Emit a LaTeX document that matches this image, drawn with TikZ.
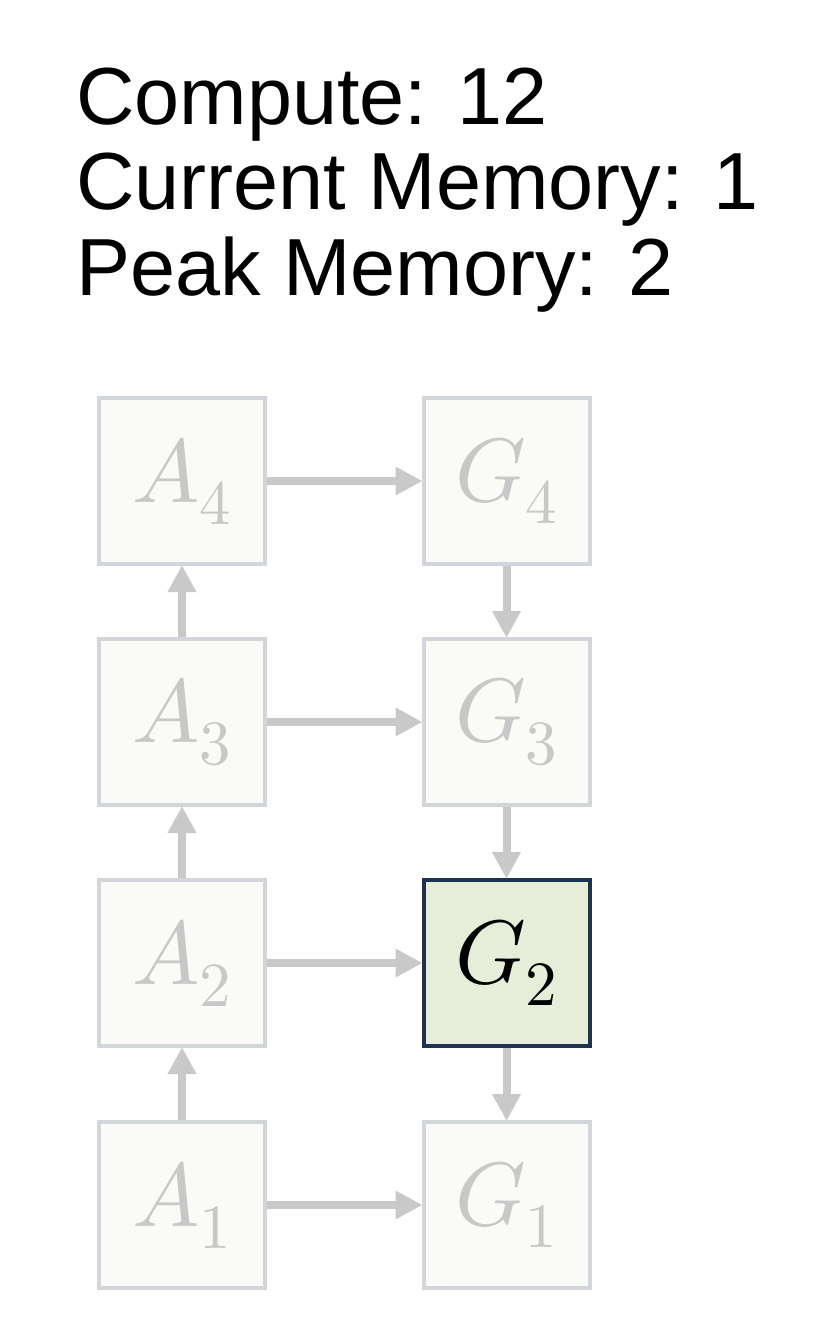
\documentclass[tikz,border=0pt]{standalone}
\usepackage{fontspec}
\usepackage{unicode-math}
\setmainfont{Liberation Sans}
\setmathfont{Latin Modern Math}
\usetikzlibrary{arrows.meta}
\definecolor{boxgray}{HTML}{D2D6DB}
\definecolor{boxfill}{HTML}{FAFBF7}
\definecolor{arrgray}{HTML}{C9C9C9}
\definecolor{txtgray}{HTML}{C8C8C8}
\definecolor{navy}{HTML}{1E3350}
\definecolor{greenfill}{HTML}{E6EDD9}
\tikzset{
  faded/.style={draw=boxgray, fill=boxfill, line width=4pt, minimum width=166pt, minimum height=166pt, inner sep=0pt, text=txtgray, font=\fontsize{90}{90}\selectfont},
  active/.style={faded, draw=navy, fill=greenfill, text=black},
  conn/.style={draw=arrgray, line width=8pt, -{Triangle[length=27pt,width=27pt]}, shorten >=-1pt},
  info/.style={anchor=base west, inner sep=0pt, font=\fontsize{81}{85}\selectfont}
}
\begin{document}
\begin{tikzpicture}[x=1pt,y=-1pt]
\useasboundingbox (0,0) rectangle (834,1332);
\node[info] (l1) at (76,125) {Compute: 12};
\node[info] (l2) at (76,210) {Current Memory: 1};
\node[info] (l3) at (76,295) {Peak Memory: 2};

\node[faded] (A4) at (182,481) {$A_4$};
\node[faded] (G4) at (506.5,481) {$G_4$};
\node[faded] (A3) at (182,722) {$A_3$};
\node[faded] (G3) at (506.5,722) {$G_3$};
\node[faded] (A2) at (182,963) {$A_2$};
\node[active] (G2) at (506.5,963) {$G_2$};
\node[faded] (A1) at (182,1205) {$A_1$};
\node[faded] (G1) at (506.5,1205) {$G_1$};

\draw[conn] (A1.north) -- (A2.south);
\draw[conn] (A2.north) -- (A3.south);
\draw[conn] (A3.north) -- (A4.south);
\draw[conn] (A4.east) -- (G4.west);
\draw[conn] (A3.east) -- (G3.west);
\draw[conn] (A2.east) -- (G2.west);
\draw[conn] (A1.east) -- (G1.west);
\draw[conn] (G4.south) -- (G3.north);
\draw[conn] (G3.south) -- (G2.north);
\draw[conn] (G2.south) -- (G1.north);
\end{tikzpicture}
\end{document}
